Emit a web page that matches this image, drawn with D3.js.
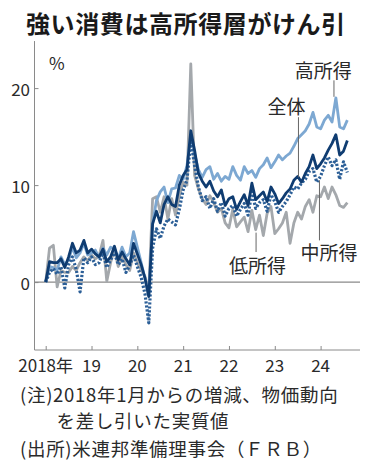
<!DOCTYPE html>
<html>
<head>
<meta charset="utf-8">
<script src="https://cdn.jsdelivr.net/npm/d3@7"></script>
<style>
  html, body { margin: 0; padding: 0; background: #fff; }
  svg { display: block; font-family: "Noto Sans CJK JP", "Noto Sans", sans-serif; }
</style>
</head>
<body>
<svg id="chart" width="370" height="469"></svg>
<script>
// ---- Data (monthly, Jan 2018 = index 0 .. Aug 2024 = index 79), % change from Jan 2018 ----
const titleText = "強い消費は高所得層がけん引";
const unitLabel = "%";
const yTicks = [0, 10, 20];
const xTickIndex = [0, 12, 24, 36, 48, 60, 72];
const xTickLabels = ["2018年", "19", "20", "21", "22", "23", "24"];

const highIncome = [
  0, 1.6, 1.5, 1.2, 2.6, 1.8, 2.3, 3.6, 2.5, 3.0, 4.0, 2.8,
  3.0, 3.3, 2.5, 3.5, 2.8, 3.6, 3.4, 2.4, 3.6, 2.6, 3.0, 5.2,
  3.6, 2.0, 0.4, -1.4, 6.0, 8.4, 9.3, 9.8, 8.2, 9.6, 9.7, 11.0,
  10.6, 12.0, 15.0, 13.2, 11.6, 10.8, 11.6, 11.9, 10.6, 11.2, 10.4, 10.9,
  10.6, 11.9, 11.0, 10.5, 11.9, 11.2, 11.5, 10.8, 11.7, 12.1, 12.8, 11.8,
  12.4, 13.1, 12.6, 13.0, 13.3, 14.0, 14.8, 15.2, 15.6, 16.3, 17.5, 16.0,
  15.8, 16.7, 17.2, 16.5, 19.0, 16.0, 15.8, 16.7
];
const total = [
  0, 2.1, 2.0, 2.0, 2.4, 1.5, 2.6, 4.0, 3.0, 3.3, 4.3, 3.0,
  3.4, 2.9, 2.6, 3.4, 2.1, 2.6, 3.7, 2.3, 3.1, 2.4, 1.8, 4.0,
  2.9, 1.8, 0.4, -1.5, 6.0, 7.3, 6.1, 8.0, 8.8, 8.0, 7.8, 10.0,
  11.0, 11.6, 15.6, 13.6, 11.2, 10.4, 9.8, 10.4, 9.4, 8.8, 9.5, 7.9,
  8.6, 8.8, 7.5, 8.3, 9.0, 7.9, 10.2, 8.5, 8.9, 9.3, 8.3, 9.8,
  9.1, 8.1, 8.6, 9.2, 9.6, 10.5, 10.9, 10.3, 11.2, 11.9, 13.1, 11.7,
  12.2, 12.8, 13.6, 14.3, 15.2, 13.1, 13.5, 14.6
];
const middleIncome = [
  0, 1.0, 1.4, 0.8, 1.6, -0.6, 1.8, 2.6, 1.3, -1.0, 2.5, 2.0,
  2.6, 1.8, 2.0, 3.0, 1.5, 2.3, 3.0, 1.8, 2.4, 1.0, 1.7, 2.8,
  1.6, 0.5, -1.2, -4.2, 3.5, 5.5, 4.5, 5.8, 6.5, 6.2, 5.9, 7.5,
  9.5, 10.5, 14.6, 12.0, 9.8, 8.4, 8.8, 7.6, 8.6, 7.3, 8.2, 6.8,
  7.6, 7.9, 6.8, 7.5, 8.1, 6.9, 9.3, 7.6, 8.2, 8.5, 7.3, 9.0,
  8.3, 7.2, 7.8, 8.3, 9.0, 9.8, 9.6, 10.2, 10.6, 11.4, 11.7, 10.3,
  10.9, 12.0, 12.9, 12.0, 12.6, 10.6, 12.4, 11.3
];
const lowIncome = [
  0, 3.5, 3.8, -0.5, 1.2, 1.0, 1.0, 1.6, 1.2, 2.0, 2.6, 2.2,
  2.8, 2.4, 2.7, 4.3, 0.1, 2.0, 3.5, 1.6, 2.6, 1.8, 1.2, 3.0,
  2.0, 1.2, 0.6, -1.0, 8.6, 8.8, 7.2, 8.8, 6.5, 8.6, 6.9, 8.9,
  10.3, 10.0, 22.5, 11.0, 9.6, 8.6, 8.0, 8.9, 8.2, 7.2, 7.6, 6.1,
  5.6, 7.5, 5.7, 6.2, 6.7, 5.2, 7.4, 5.4, 6.9, 4.8, 7.1, 7.8,
  5.0, 5.5, 6.1, 7.2, 4.0, 6.1, 7.2, 6.5, 7.8, 8.5, 7.2, 8.9,
  8.8, 9.8, 8.6, 9.8, 9.0, 7.9, 7.7, 8.2
];

const seriesNames = ["低所得", "高所得", "中所得", "全体"];
const seriesColors = ["#a4a8ac", "#7da8d2", "#2c5f97", "#0f3c71"];
const seriesDash = [null, null, "2.2,1.8", null];
const seriesData = [lowIncome, highIncome, middleIncome, total];

// annotation positions in data units
const annotations = [
  { label: "高所得", tm: 72.7, tv: 21.9, lm: 75.5, v1: 20.8, v2: 19.1 },
  { label: "全体",   tm: 63.1, tv: 18.2, lm: 66.2, v1: 17.0, v2: 10.8 },
  { label: "低所得", tm: 55.5, tv: 1.8,  lm: 55.1, v1: 5.1,  v2: 3.1 },
  { label: "中所得", tm: 74.2, tv: 3.2,  lm: 71.7, v1: 10.5, v2: 4.3 }
];

const noteLines = [
  "(注)2018年1月からの増減、物価動向",
  "を差し引いた実質値",
  "(出所)米連邦準備理事会（ＦＲＢ）"
];

// ---- Drawing ----
const svg = d3.select("#chart");
const x = d3.scaleLinear().domain([0, 72]).range([45.7, 320.6]);
const y = d3.scaleLinear().domain([-7, 25]).range([350, 39.6]);

const axisColor = "#8a8a8a";
const textColor = "#2a2a2a";

// title
svg.append("text")
  .attr("x", 26).attr("y", 22)
  .attr("dominant-baseline", "central")
  .attr("font-size", 24).attr("font-weight", "bold")
  .attr("letter-spacing", 0.6)
  .attr("fill", "#1a1a1a")
  .text(titleText);

// y axis
const yAxis = d3.axisRight(y).tickValues(yTicks).tickSize(4).tickFormat("");
const gy = svg.append("g").attr("transform", "translate(34.5,0)").call(yAxis);
gy.select(".domain").attr("stroke", axisColor).attr("d", `M0,${y(24.85)}V${y(-7)}`);
gy.selectAll(".tick line").attr("stroke", axisColor);

svg.append("g").selectAll("text").data(yTicks).join("text")
  .attr("x", 30).attr("y", d => y(d))
  .attr("text-anchor", "end").attr("dominant-baseline", "central")
  .attr("font-size", 17).attr("fill", textColor)
  .text(d => d);

svg.append("text")
  .attr("x", 49).attr("y", 62)
  .attr("dominant-baseline", "central")
  .attr("font-size", 17).attr("fill", textColor)
  .text(unitLabel);

// zero line
svg.append("line")
  .attr("x1", 34.5).attr("x2", 360)
  .attr("y1", y(0)).attr("y2", y(0))
  .attr("stroke", axisColor).attr("stroke-width", 1.2);

// x axis
const xAxis = d3.axisTop(x).tickValues(xTickIndex).tickSize(4).tickFormat("");
const gx = svg.append("g").attr("transform", `translate(0,${y(-7)})`).call(xAxis);
gx.select(".domain").attr("stroke", axisColor).attr("d", "M34.5,0H360");
gx.selectAll(".tick line").attr("stroke", axisColor);

svg.append("g").selectAll("text").data(xTickIndex).join("text")
  .attr("x", d => x(d)).attr("y", 364)
  .attr("text-anchor", "middle").attr("dominant-baseline", "central")
  .attr("font-size", 17).attr("fill", textColor)
  .text((d, i) => xTickLabels[i]);

// lines
const line = d3.line().x((d, i) => x(i)).y(d => y(d)).curve(d3.curveLinear);
seriesData.forEach((s, k) => {
  svg.append("path")
    .datum(s)
    .attr("d", line)
    .attr("fill", "none")
    .attr("stroke", seriesColors[k])
    .attr("stroke-width", k === 2 ? 3.2 : 2.8)
    .attr("stroke-linejoin", "round")
    .attr("stroke-dasharray", seriesDash[k]);
});

// annotations
annotations.forEach(a => {
  svg.append("line")
    .attr("x1", x(a.lm)).attr("x2", x(a.lm))
    .attr("y1", y(a.v1)).attr("y2", y(a.v2))
    .attr("stroke", "#666").attr("stroke-width", 1);
  svg.append("text")
    .attr("x", x(a.tm)).attr("y", y(a.tv))
    .attr("text-anchor", "middle").attr("dominant-baseline", "central")
    .attr("font-size", 19).attr("fill", textColor)
    .text(a.label);
});

// notes
const noteX = [20, 56.5, 20];
const noteY = [394, 420, 448];
svg.append("g").selectAll("text").data(noteLines).join("text")
  .attr("x", (d, i) => noteX[i]).attr("y", (d, i) => noteY[i])
  .attr("dominant-baseline", "central")
  .attr("font-size", 18.5).attr("letter-spacing", 0.7).attr("fill", textColor)
  .text(d => d);
</script>
</body>
</html>
